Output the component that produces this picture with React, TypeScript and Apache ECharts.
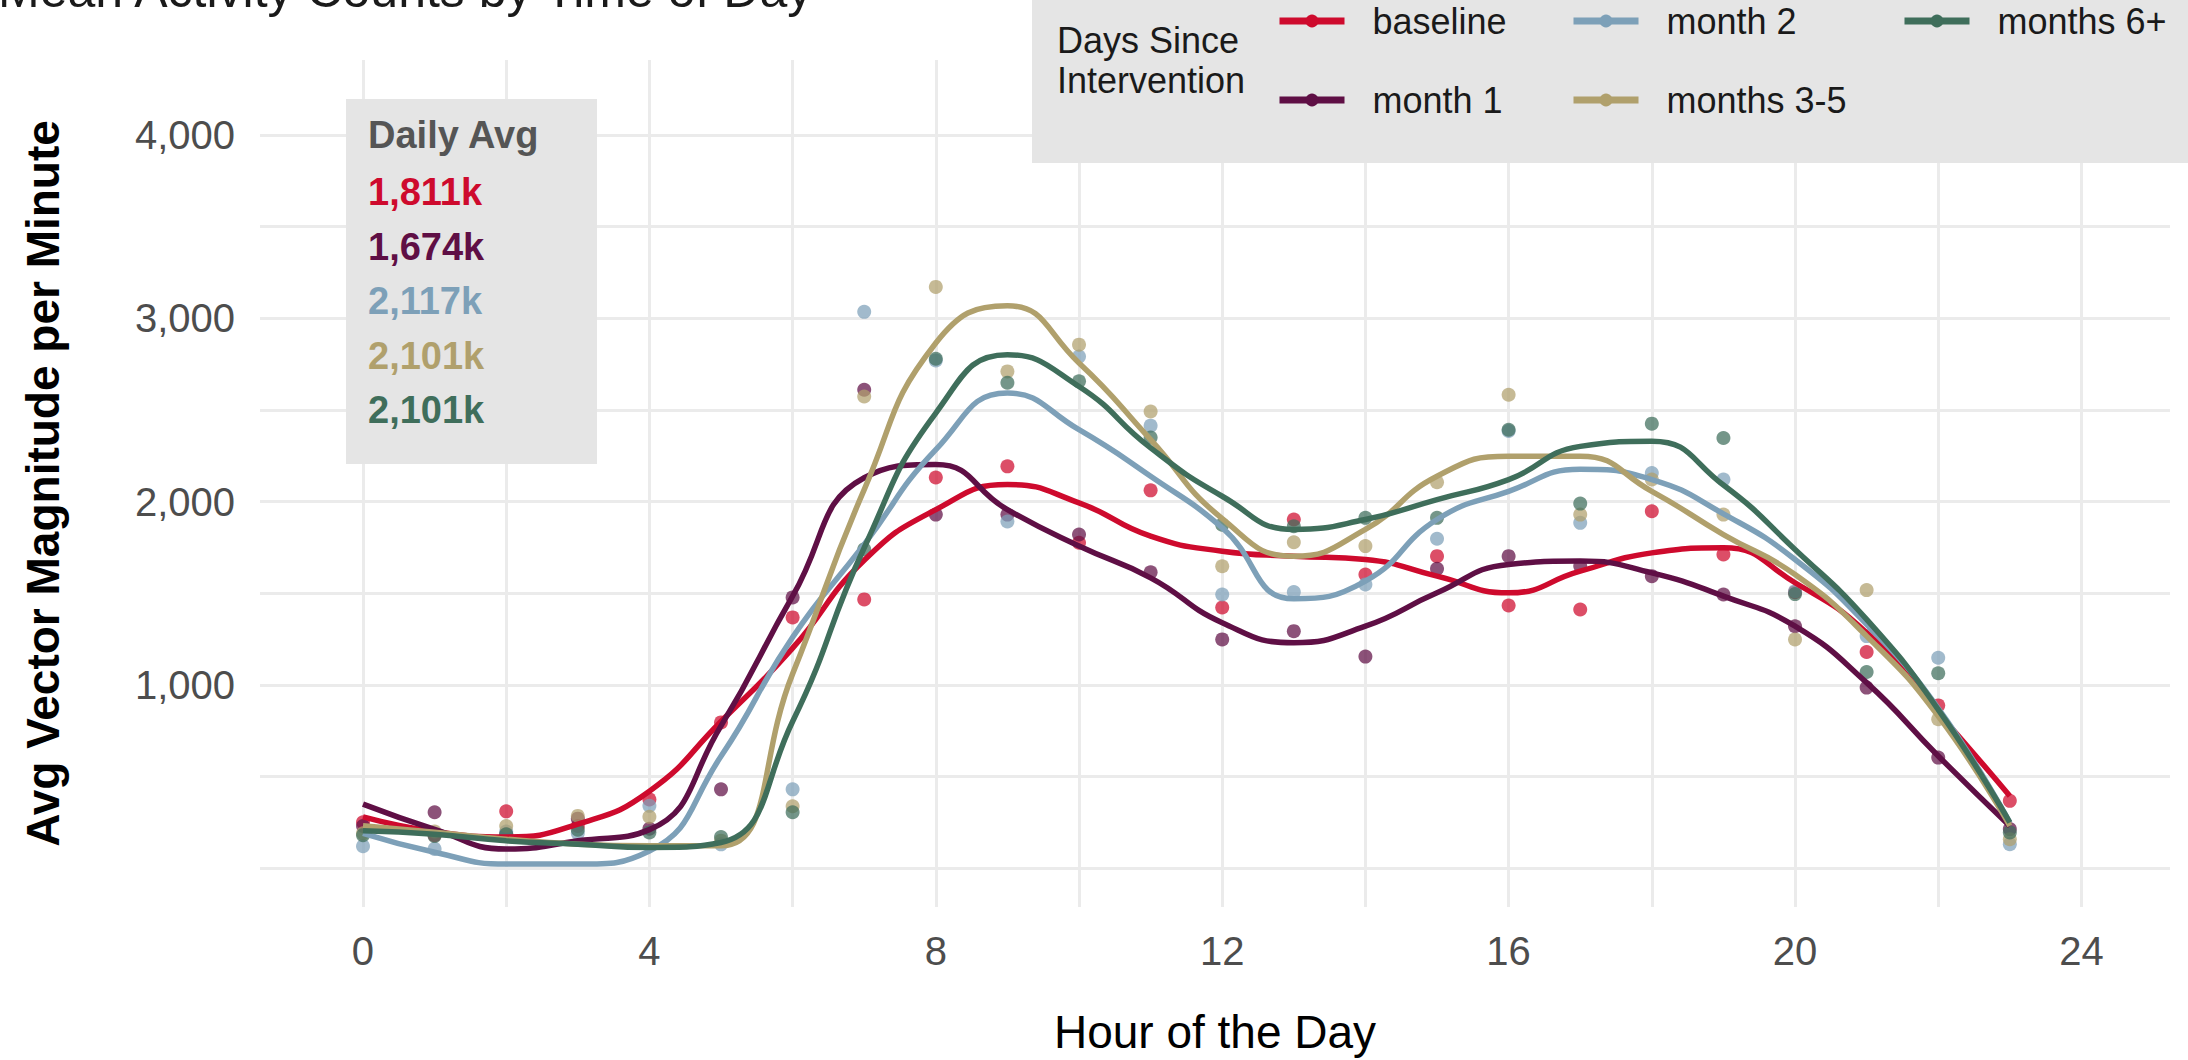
import React, { useEffect, useRef } from "react";
import * as echarts from "echarts";

const FONT = "'Liberation Sans', Arial, Helvetica, sans-serif";

const hours = [0, 1, 2, 3, 4, 5, 6, 7, 8, 9, 10, 11, 12, 13, 14, 15, 16, 17, 18, 19, 20, 21, 22, 23];

const seriesNames = ["baseline", "month 1", "month 2", "months 3-5", "months 6+"];
const seriesColors = ["#CE0A2D", "#5F0F45", "#7DA0B8", "#B0A06C", "#3F6E5B"];

// hourly mean points
const baselinePoints = [250, 180, 310, 230, 375, 795, 1368, 1466, 2131, 2192, 1775, 2061, 1422, 1902, 1602, 1702, 1433, 1411, 1947, 1711, 1505, 1179, 888, 367];
const month1Points = [230, 305, 185, 270, 215, 430, 1477, 2610, 1929, 1929, 1820, 1614, 1248, 1293, 1154, 1633, 1702, 1648, 1593, 1493, 1320, 985, 603, 213];
const month2Points = [120, 105, 200, 190, 340, 130, 430, 3035, 2770, 1891, 2791, 2414, 1493, 1506, 1548, 1797, 2385, 1884, 2156, 2120, 1510, 1266, 1148, 131];
const months35Points = [190, 200, 230, 285, 280, 150, 338, 2573, 3171, 2710, 2856, 2491, 1647, 1778, 1757, 2105, 2583, 1929, 2120, 1929, 1248, 1517, 812, 158];
const months6Points = [180, 175, 185, 210, 195, 170, 305, 1740, 2779, 2648, 2656, 2349, 1874, 1865, 1911, 1911, 2392, 1989, 2425, 2347, 1495, 1070, 1063, 195];

// smoothed (loess) curves
const baselineSmooth = [280, 200, 170, 240, 420, 800, 1200, 1680, 1956, 2093, 1993, 1811, 1729, 1702, 1684, 1593, 1502, 1620, 1720, 1748, 1557, 1284, 848, 394];
const month1Smooth = [349, 212, 104, 149, 210, 776, 1484, 2130, 2202, 1956, 1757, 1584, 1339, 1230, 1320, 1502, 1657, 1675, 1611, 1484, 1320, 1012, 612, 230];
const month2Smooth = [190, 87, 22, 22, 94, 610, 1260, 1766, 2283, 2592, 2392, 2138, 1857, 1470, 1566, 1902, 2056, 2176, 2120, 1933, 1684, 1330, 872, 249];
const months35Smooth = [231, 196, 158, 131, 122, 122, 1060, 2065, 2865, 3068, 2756, 2338, 1907, 1702, 1848, 2138, 2247, 2247, 2056, 1820, 1602, 1266, 829, 231];
const months6Smooth = [204, 185, 149, 131, 113, 140, 800, 1748, 2483, 2801, 2628, 2293, 2029, 1848, 1902, 2011, 2120, 2301, 2329, 2090, 1739, 1357, 865, 249];

const pointSets = [baselinePoints, month1Points, month2Points, months35Points, months6Points];
const smoothSets = [baselineSmooth, month1Smooth, month2Smooth, months35Smooth, months6Smooth];

const dailyAvgLabels = ["1,811k", "1,674k", "2,117k", "2,101k", "2,101k"];

const xGridValues = [0, 2, 4, 6, 8, 10, 12, 14, 16, 18, 20, 22, 24];
const xTickValues = [0, 4, 8, 12, 16, 20, 24];
const yGridValues = [0, 500, 1000, 1500, 2000, 2500, 3000, 3500, 4000];
const yTickValues = [1000, 2000, 3000, 4000];

const fmt = (v: number) => String(Math.round(v)).replace(/\B(?=(\d{3})+(?!\d))/g, ",");

export default function App() {
  const ref = useRef<HTMLDivElement>(null);

  useEffect(() => {
    if (!ref.current) return;
    const chart = echarts.init(ref.current, undefined, { renderer: "svg" });

    const lineSeries = seriesNames.map((name, i) => ({
      type: "line",
      name,
      data: hours.map((h, j) => [h, smoothSets[i][j]]),
      smooth: 0.5,
      symbol: "circle",
      symbolSize: 12,
      showSymbol: false,
      lineStyle: { color: seriesColors[i], width: 5.5 },
      itemStyle: { color: seriesColors[i] },
      z: 3,
      silent: true,
    }));

    const pointSeries = seriesNames.map((name, i) => ({
      type: "scatter",
      name,
      data: hours.map((h, j) => [h, pointSets[i][j]]),
      symbolSize: 14,
      itemStyle: { color: seriesColors[i], opacity: 0.72 },
      z: 2,
      silent: true,
    }));

    const legendBase = {
      orient: "vertical",
      top: 1,
      padding: 0,
      itemWidth: 65,
      itemHeight: 16,
      itemGap: 39,
      selectedMode: false,
      lineStyle: { width: 7 },
      textStyle: {
        fontSize: 36,
        lineHeight: 40,
        color: "#1a1a1a",
        fontFamily: FONT,
        padding: [0, 0, 0, 23],
      },
    };

    const graphicElements: any[] = [
      {
        type: "rect",
        shape: { x: 1032, y: -2, width: 1160, height: 165 },
        style: { fill: "#E5E5E5" },
        z: 1,
      },
      {
        type: "text",
        x: 1057,
        y: 40.5,
        style: { text: "Days Since", fontSize: 36, fontFamily: FONT, fill: "#1a1a1a", verticalAlign: "middle", align: "left" },
        z: 10,
      },
      {
        type: "text",
        x: 1057,
        y: 80.5,
        style: { text: "Intervention", fontSize: 36, fontFamily: FONT, fill: "#1a1a1a", verticalAlign: "middle", align: "left" },
        z: 10,
      },
      {
        type: "rect",
        shape: { x: 346, y: 99, width: 251, height: 365 },
        style: { fill: "#E5E5E5" },
        z: 1,
      },
      {
        type: "text",
        x: 368,
        y: 135,
        style: { text: "Daily Avg", fontSize: 38, fontWeight: "bold", fontFamily: FONT, fill: "#555555", verticalAlign: "middle", align: "left" },
        z: 10,
      },
      ...dailyAvgLabels.map((t, i) => ({
        type: "text",
        x: 368,
        y: 192 + 54.5 * i,
        style: { text: t, fontSize: 38, fontWeight: "bold", fontFamily: FONT, fill: seriesColors[i], verticalAlign: "middle", align: "left" },
        z: 10,
      })),
    ];

    chart.setOption({
      animation: false,
      backgroundColor: "#ffffff",
      textStyle: { fontFamily: FONT },
      title: {
        text: "Mean Activity Counts by Time of Day",
        left: -2,
        top: -35,
        padding: 0,
        textStyle: { fontSize: 50, fontWeight: "normal", color: "#1a1a1a", fontFamily: FONT, lineHeight: 50 },
      },
      grid: { left: 260, right: 18, top: 60, bottom: 152, containLabel: false },
      xAxis: {
        type: "value",
        min: -1.4385,
        max: 25.237,
        axisLine: { show: false, onZero: false },
        axisTick: { show: false, customValues: xGridValues },
        axisLabel: {
          customValues: xTickValues,
          fontSize: 40,
          lineHeight: 40,
          color: "#4d4d4d",
          margin: 24,
          fontFamily: FONT,
          formatter: (v: number) => fmt(v),
        },
        splitLine: { show: true, lineStyle: { color: "#EBEBEB", width: 3 } },
        name: "Hour of the Day",
        nameLocation: "middle",
        nameGap: 102,
        nameTextStyle: { fontSize: 46, lineHeight: 46, color: "#000000", fontFamily: FONT },
      },
      yAxis: {
        type: "value",
        min: -212,
        max: 4409,
        axisLine: { show: false, onZero: false },
        axisTick: { show: false, customValues: yGridValues },
        axisLabel: {
          customValues: yTickValues,
          fontSize: 40,
          lineHeight: 40,
          color: "#4d4d4d",
          margin: 25,
          fontFamily: FONT,
          formatter: (v: number) => fmt(v),
        },
        splitLine: { show: true, lineStyle: { color: "#EBEBEB", width: 3 } },
        name: "Avg Vector Magnitude per Minute",
        nameLocation: "middle",
        nameGap: 194,
        nameTextStyle: { fontSize: 46, lineHeight: 46, fontWeight: "bold", color: "#000000", fontFamily: FONT },
      },
      legend: [
        { ...legendBase, left: 1276, data: ["baseline", "month 1"] },
        { ...legendBase, left: 1570, data: ["month 2", "months 3-5"] },
        { ...legendBase, left: 1901, data: ["months 6+"] },
      ],
      graphic: { elements: graphicElements },
      series: [...lineSeries, ...pointSeries],
    });

    return () => chart.dispose();
  }, []);

  return (
    <div
      ref={ref}
      style={{ position: "fixed", left: 0, top: 0, width: 2188, height: 1060, background: "#fff" }}
    />
  );
}
